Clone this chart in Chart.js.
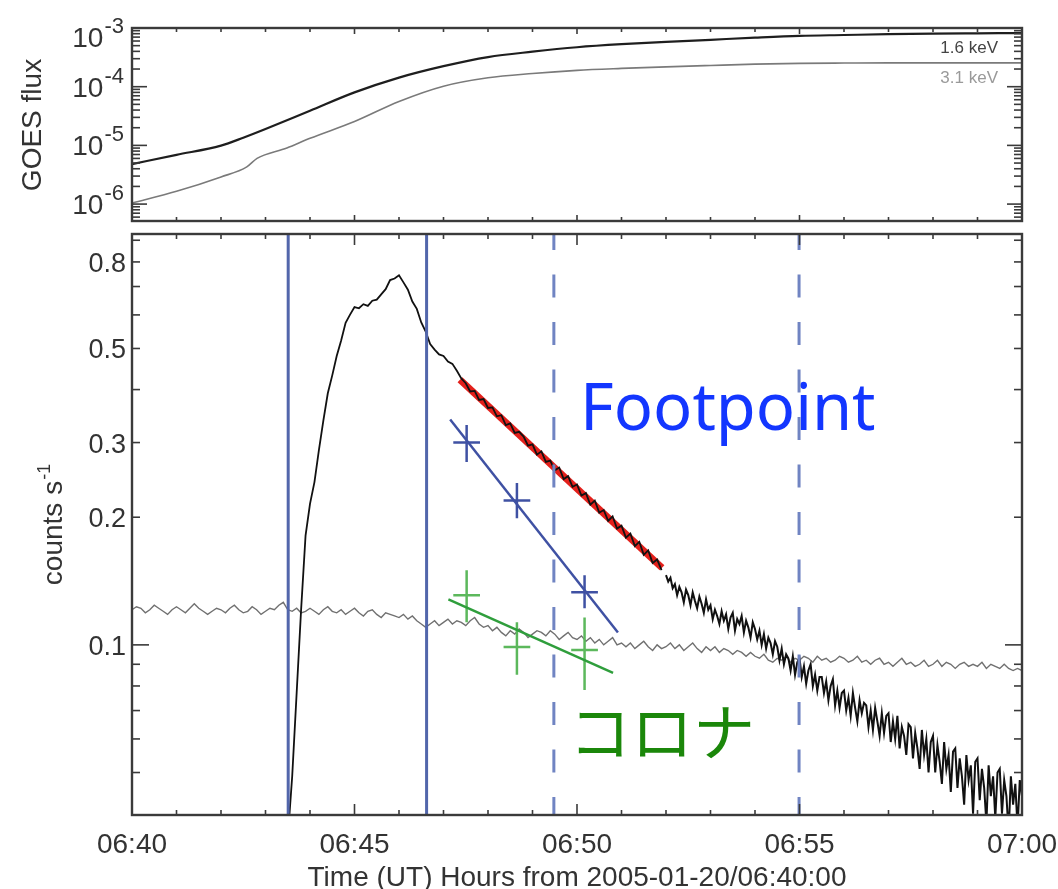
<!DOCTYPE html>
<html lang="ja">
<head>
<meta charset="UTF-8">
<title>2005-01-20 flare light curves</title>
<script src="https://cdn.jsdelivr.net/npm/chart.js@4.4.1/dist/chart.umd.min.js"></script>
<style>
  body { margin: 0; background: #fff; }
  #wrap { position: relative; width: 1058px; height: 889px; }
  canvas { position: absolute; left: 0; }
  #goes { top: 0; }
  #counts { top: 228px; }
</style>
</head>
<body>
<div id="wrap">
  <canvas id="goes" width="1058" height="228"></canvas>
  <canvas id="counts" width="1058" height="661"></canvas>
</div>
<script>
// time axis: minutes after 06:40:00 UT
const tMin = 0, tMax = 20;
const timeTickMinutes = [0, 5, 10, 15, 20];
const timeTickLabels = ['06:40', '06:45', '06:50', '06:55', '07:00'];

// GOES fluxes
const goesMin = 5.15e-7, goesMax = 1e-3;
const fluxDecades = [-3, -4, -5, -6];
const goesLowTimes = [0, 1, 2, 2.5, 3, 4, 5, 6, 7, 8, 9, 10, 11, 12, 13, 14, 15, 16, 17, 18, 19, 20];
const goesLow = [4.8e-6, 6.9e-6, 9.9e-6, 1.35e-5, 1.9e-5, 3.9e-5, 8.0e-5, 1.43e-4, 2.24e-4, 3.2e-4, 3.95e-4, 4.7e-4,
                 5.3e-4, 5.8e-4, 6.3e-4, 6.85e-4, 7.35e-4, 7.6e-4, 7.85e-4, 8.0e-4, 8.1e-4, 8.2e-4];
const goesHighTimes = [0, 1, 2, 2.58, 2.81, 3.48, 4, 5, 6, 7, 8, 9, 10, 11, 12, 13, 14, 15, 16, 17, 18, 19, 20];
const goesHigh = [1.04e-6, 1.65e-6, 2.9e-6, 4.3e-6, 6.0e-6, 9.0e-6, 1.32e-5, 2.55e-5, 5.6e-5, 1.02e-4, 1.42e-4,
                  1.68e-4, 1.9e-4, 2.05e-4, 2.18e-4, 2.3e-4, 2.42e-4, 2.5e-4, 2.53e-4, 2.55e-4, 2.55e-4, 2.55e-4, 2.55e-4];

// count rates
const countMin = 0.0397, countMax = 0.931;
const countLabelTicks = [0.1, 0.2, 0.3, 0.5, 0.8];
const countLabels = ['0.1', '0.2', '0.3', '0.5', '0.8'];
const countMinorTicks = [0.05, 0.06, 0.07, 0.08, 0.09, 0.2, 0.3, 0.4, 0.5, 0.6, 0.7, 0.8, 0.9];

// footpoint light curve: 6 s bins from 06:43:30 ...
const footStart = 3.5, footStep = 0.1;
const footCounts = [
  0.035, 0.049, 0.077, 0.121, 0.181, 0.215, 0.242, 0.288, 0.338, 0.392,
  0.432, 0.480, 0.522, 0.575, 0.601, 0.626, 0.622, 0.636, 0.630, 0.648,
  0.652, 0.671, 0.690, 0.725, 0.731, 0.744, 0.716, 0.688, 0.645, 0.620,
  0.576, 0.548, 0.512, 0.497, 0.484, 0.480, 0.466, 0.460, 0.443, 0.425,
  0.414, 0.396, 0.397, 0.378, 0.380, 0.362, 0.363, 0.346, 0.348, 0.330,
  0.333, 0.316, 0.318, 0.310, 0.295, 0.297, 0.281, 0.286, 0.270, 0.272,
  0.258, 0.262, 0.246, 0.250, 0.236, 0.239, 0.225, 0.228, 0.214, 0.219,
  0.205, 0.208, 0.196, 0.201, 0.188, 0.191, 0.179, 0.183, 0.171, 0.175,
  0.163, 0.167, 0.156, 0.159, 0.150
];
// ... then 3 s bins from 06:52:00
const tailStart = 12.0, tailStep = 0.05;
const tailCounts = [
  0.146, 0.141, 0.144, 0.136, 0.139, 0.131, 0.137, 0.133, 0.126, 0.135,
  0.131, 0.124, 0.133, 0.127, 0.122, 0.130, 0.125, 0.119, 0.128, 0.121,
  0.124, 0.115, 0.121, 0.117, 0.112, 0.120, 0.114, 0.118, 0.109, 0.116,
  0.119, 0.108, 0.115, 0.112, 0.117, 0.107, 0.114, 0.110, 0.104, 0.113,
  0.109, 0.103, 0.108, 0.100, 0.106, 0.098, 0.104, 0.101, 0.095, 0.102,
  0.099, 0.092, 0.098, 0.090, 0.095, 0.093, 0.087, 0.094, 0.085, 0.091,
  0.093, 0.084, 0.089, 0.081, 0.087, 0.090, 0.080, 0.085, 0.078, 0.084,
  0.084, 0.077, 0.082, 0.074, 0.080, 0.083, 0.072, 0.078, 0.071, 0.077,
  0.078, 0.070, 0.075, 0.068, 0.077, 0.071, 0.066, 0.074, 0.069, 0.073,
  0.072, 0.064, 0.070, 0.063, 0.071, 0.066, 0.061, 0.069, 0.062, 0.068,
  0.069, 0.059, 0.066, 0.060, 0.068, 0.057, 0.064, 0.061, 0.055, 0.065,
  0.064, 0.054, 0.062, 0.057, 0.051, 0.063, 0.055, 0.060, 0.050, 0.059,
  0.061, 0.050, 0.058, 0.053, 0.047, 0.059, 0.051, 0.055, 0.045, 0.056,
  0.057, 0.046, 0.054, 0.049, 0.042, 0.055, 0.048, 0.052, 0.040, 0.053,
  0.054, 0.043, 0.051, 0.046, 0.038, 0.052, 0.044, 0.049, 0.039, 0.050,
  0.051, 0.040, 0.048, 0.044, 0.036, 0.049, 0.042, 0.047, 0.037, 0.048,
  0.044
];

// coronal background, 6 s bins from 06:40
const bgStart = 0, bgStep = 0.1;
const bgCounts = [
  0.121, 0.123, 0.122, 0.119, 0.121, 0.124, 0.122, 0.120, 0.118, 0.121, 0.123, 0.121, 0.119, 0.122, 0.125, 0.122, 0.120, 0.118, 0.120, 0.122,
  0.121, 0.119, 0.122, 0.124, 0.121, 0.119, 0.120, 0.123, 0.121, 0.118, 0.120, 0.122, 0.121, 0.124, 0.126, 0.121, 0.120, 0.122, 0.119, 0.120,
  0.122, 0.120, 0.118, 0.121, 0.123, 0.120, 0.119, 0.121, 0.118, 0.120, 0.122, 0.119, 0.117, 0.120, 0.121, 0.118, 0.116, 0.119, 0.118, 0.117,
  0.116, 0.118, 0.115, 0.117, 0.114, 0.112, 0.110, 0.112, 0.114, 0.111, 0.113, 0.115, 0.112, 0.114, 0.113, 0.111, 0.114, 0.116, 0.112, 0.110,
  0.111, 0.108, 0.110, 0.107, 0.105, 0.108, 0.106, 0.109, 0.107, 0.104, 0.106, 0.108, 0.107, 0.105, 0.108, 0.106, 0.103, 0.105, 0.107, 0.104,
  0.103, 0.105, 0.102, 0.104, 0.101, 0.103, 0.100, 0.102, 0.104, 0.100, 0.101, 0.099, 0.101, 0.098, 0.100, 0.102, 0.099, 0.097, 0.100, 0.098,
  0.099, 0.101, 0.098, 0.100, 0.097, 0.099, 0.101, 0.098, 0.096, 0.099, 0.097, 0.099, 0.096, 0.098, 0.097, 0.095, 0.097, 0.096, 0.094, 0.096,
  0.094, 0.093, 0.095, 0.092, 0.091, 0.093, 0.092, 0.094, 0.091, 0.093, 0.092, 0.094, 0.093, 0.091, 0.094, 0.092, 0.093, 0.091, 0.092, 0.094,
  0.093, 0.091, 0.092, 0.094, 0.091, 0.092, 0.090, 0.092, 0.093, 0.090, 0.091, 0.089, 0.091, 0.093, 0.090, 0.091, 0.089, 0.090, 0.092, 0.089,
  0.090, 0.092, 0.089, 0.091, 0.090, 0.088, 0.090, 0.091, 0.089, 0.090, 0.089, 0.091, 0.088, 0.090, 0.089, 0.088, 0.090, 0.088, 0.087, 0.088,
  0.087
];

// exponential fits
const redFitT = [7.37, 11.91], redFitV = [0.422, 0.152];
const blueFitT = [7.15, 10.92], blueFitV = [0.34, 0.107];
const greenFitT = [7.11, 10.81], greenFitV = [0.128, 0.0859];

// imaged fluxes with errors
const imgT = [7.52, 8.65, 10.17], imgHalfWidth = 0.3;
const footImg = [0.300, 0.219, 0.133], footImgLo = [0.270, 0.199, 0.122], footImgHi = [0.330, 0.241, 0.146];
const coronaImg = [0.131, 0.0989, 0.0973], coronaImgLo = [0.113, 0.085, 0.0783], coronaImgHi = [0.150, 0.113, 0.116];

// interval markers
const solidMarks = [3.51, 6.62];
const dashedMarks = [9.48, 14.99];

const AXIS_FONT = '"Liberation Sans", Arial, Helvetica, sans-serif';
const FRAME = '#3a3a3a';

function series(times, values) {
  return times.map((t, i) => ({ x: t, y: values[i] }));
}
function evenSeries(t0, dt, values) {
  return values.map((v, i) => ({ x: t0 + i * dt, y: v }));
}
function crossBars(ts, vs, lo, hi, dx) {
  const pts = [];
  ts.forEach((t, i) => {
    pts.push({ x: t - dx, y: vs[i] }, { x: t + dx, y: vs[i] }, { x: t, y: null });
    pts.push({ x: t, y: hi[i] }, { x: t, y: lo[i] }, { x: t, y: null });
  });
  return pts;
}
function markLines(ts) {
  const pts = [];
  ts.forEach(t => pts.push({ x: t, y: countMax }, { x: t, y: countMin }, { x: t, y: null }));
  return pts;
}
function lineSet(data, color, width, order, extra) {
  return Object.assign({
    data, borderColor: color, borderWidth: width, order,
    pointRadius: 0, tension: 0, fill: false, spanGaps: false, clip: 0
  }, extra || {});
}

function tickLine(ctx, x1, y1, x2, y2) {
  ctx.beginPath();
  ctx.moveTo(x1, y1);
  ctx.lineTo(x2, y2);
  ctx.stroke();
}

// IDL style box: ticks point inward on all four sides
function drawBox(chart, yTicks, xMajorLen, xMinorLen) {
  const { ctx, chartArea: a, scales } = chart;
  ctx.save();
  ctx.strokeStyle = FRAME;
  ctx.lineWidth = 1.6;
  for (let m = tMin; m <= tMax; m++) {
    const px = scales.x.getPixelForValue(m);
    const len = m % 5 === 0 ? xMajorLen : xMinorLen;
    tickLine(ctx, px, a.bottom, px, a.bottom - len);
    tickLine(ctx, px, a.top, px, a.top + len);
  }
  yTicks.forEach(([v, len]) => {
    const py = scales.y.getPixelForValue(v);
    tickLine(ctx, a.left, py, a.left + len, py);
    tickLine(ctx, a.right, py, a.right - len, py);
  });
  ctx.lineWidth = 2.4;
  ctx.strokeRect(a.left, a.top, a.right - a.left, a.bottom - a.top);
  ctx.restore();
}

const goesBox = {
  id: 'goesBox',
  afterDraw(chart) {
    const ticks = [];
    for (let d = -7; d <= -3; d++) {
      for (let k = 1; k <= 9; k++) {
        const v = k * Math.pow(10, d);
        if (v >= goesMin && v <= goesMax) ticks.push([v, k === 1 ? 15 : 8]);
      }
    }
    drawBox(chart, ticks, 6, 4);

    const { ctx, scales: { y } } = chart;
    ctx.save();
    ctx.fillStyle = '#333';
    ctx.textAlign = 'right';
    ctx.textBaseline = 'alphabetic';
    fluxDecades.forEach(d => {
      const py = Math.max(y.getPixelForValue(Math.pow(10, d)), 37);
      const exp = String(d);
      ctx.font = `22px ${AXIS_FONT}`;
      ctx.fillText(exp, 124, py - 4);
      const w = ctx.measureText(exp).width;
      ctx.font = `28px ${AXIS_FONT}`;
      ctx.fillText('10', 124 - w - 1, py + 10);
    });

    ctx.save();
    ctx.translate(41, 125);
    ctx.rotate(-Math.PI / 2);
    ctx.textAlign = 'center';
    ctx.font = `28px ${AXIS_FONT}`;
    ctx.fillText('GOES flux', 0, 0);
    ctx.restore();

    ctx.font = `17px ${AXIS_FONT}`;
    ctx.fillStyle = '#444';
    ctx.fillText('1.6 keV', 998, 53);
    ctx.fillStyle = '#9a9a9a';
    ctx.fillText('3.1 keV', 998, 83);
    ctx.restore();
  }
};

const countLabelsPlugin = {
  id: 'countText',
  beforeDatasetsDraw(chart) {
    const { ctx } = chart;
    ctx.save();
    ctx.textAlign = 'left';
    ctx.fillStyle = '#1336ff';
    ctx.font = '65px "Noto Sans", sans-serif';
    ctx.fillText('Footpoint', 580, 202);
    ctx.fillStyle = '#1b870a';
    ctx.font = '62px "Noto Sans CJK JP", sans-serif';
    ctx.textBaseline = 'middle';
    ctx.fillText('コロナ', 569, 504);
    ctx.restore();
  },
  afterDraw(chart) {
    const ticks = countMinorTicks.map(v => [v, 8]).concat([[0.1, 17]]);
    drawBox(chart, ticks, 11, 5);

    const { ctx, chartArea: a, scales: { x, y } } = chart;
    ctx.save();
    ctx.fillStyle = '#333';
    ctx.textBaseline = 'alphabetic';
    ctx.font = `27px ${AXIS_FONT}`;
    ctx.textAlign = 'right';
    countLabelTicks.forEach((v, i) => {
      ctx.fillText(countLabels[i], 126, y.getPixelForValue(v) + 10);
    });
    ctx.font = `28px ${AXIS_FONT}`;
    ctx.textAlign = 'center';
    timeTickMinutes.forEach((m, i) => {
      ctx.fillText(timeTickLabels[i], x.getPixelForValue(m), a.bottom + 38);
    });
    ctx.fillText('Time (UT) Hours from 2005-01-20/06:40:00', 577, 658);

    // rotated "counts s^-1"
    ctx.save();
    ctx.translate(62, 297);
    ctx.rotate(-Math.PI / 2);
    ctx.textAlign = 'left';
    ctx.font = `28px ${AXIS_FONT}`;
    const main = 'counts s';
    const mw = ctx.measureText(main).width;
    ctx.font = `18px ${AXIS_FONT}`;
    const sup = '-1';
    const sw = ctx.measureText(sup).width;
    const x0 = -(mw + sw) / 2;
    ctx.fillText(sup, x0 + mw + 1, -12);
    ctx.font = `28px ${AXIS_FONT}`;
    ctx.fillText(main, x0, 0);
    ctx.restore();
    ctx.restore();
  }
};

const baseOptions = (yScale, padding) => ({
  responsive: false,
  animation: false,
  events: [],
  layout: { padding },
  plugins: { legend: { display: false }, tooltip: { enabled: false } },
  scales: {
    x: { type: 'linear', display: false, min: tMin, max: tMax },
    y: yScale
  }
});

new Chart(document.getElementById('goes'), {
  type: 'line',
  data: {
    datasets: [
      lineSet(series(goesLowTimes, goesLow), '#1e1e1e', 2.2, 1, { cubicInterpolationMode: 'monotone' }),
      lineSet(series(goesHighTimes, goesHigh), '#7a7a7a', 1.6, 2, { cubicInterpolationMode: 'monotone' })
    ]
  },
  options: baseOptions(
    { type: 'logarithmic', display: false, min: goesMin, max: goesMax },
    { left: 132, right: 36, top: 28, bottom: 7 }
  ),
  plugins: [goesBox]
});

new Chart(document.getElementById('counts'), {
  type: 'line',
  data: {
    datasets: [
      lineSet(markLines(solidMarks), '#5266ab', 3, 0),
      lineSet(markLines(dashedMarks), '#7084c2', 3, 0, { borderDash: [23, 24.5], borderDashOffset: 7 }),
      lineSet(evenSeries(footStart, footStep, footCounts), '#111', 1.8, 1),
      lineSet(evenSeries(tailStart, tailStep, tailCounts), '#111', 2, 1),
      lineSet(series(redFitT, redFitV), '#e3201b', 7, 2),
      lineSet(series(blueFitT, blueFitV), '#3f51a3', 2.5, 3),
      lineSet(crossBars(imgT, footImg, footImgLo, footImgHi, imgHalfWidth), '#3f51a3', 2.5, 3),
      lineSet(series(greenFitT, greenFitV), '#2f9e3c', 2.5, 3),
      lineSet(crossBars(imgT, coronaImg, coronaImgLo, coronaImgHi, imgHalfWidth), '#5cb85c', 2.5, 3),
      lineSet(evenSeries(bgStart, bgStep, bgCounts), '#707070', 1.4, 6)
    ]
  },
  options: baseOptions(
    { type: 'logarithmic', display: false, min: countMin, max: countMax },
    { left: 132, right: 36, top: 6, bottom: 74 }
  ),
  plugins: [countLabelsPlugin]
});
</script>
</body>
</html>
